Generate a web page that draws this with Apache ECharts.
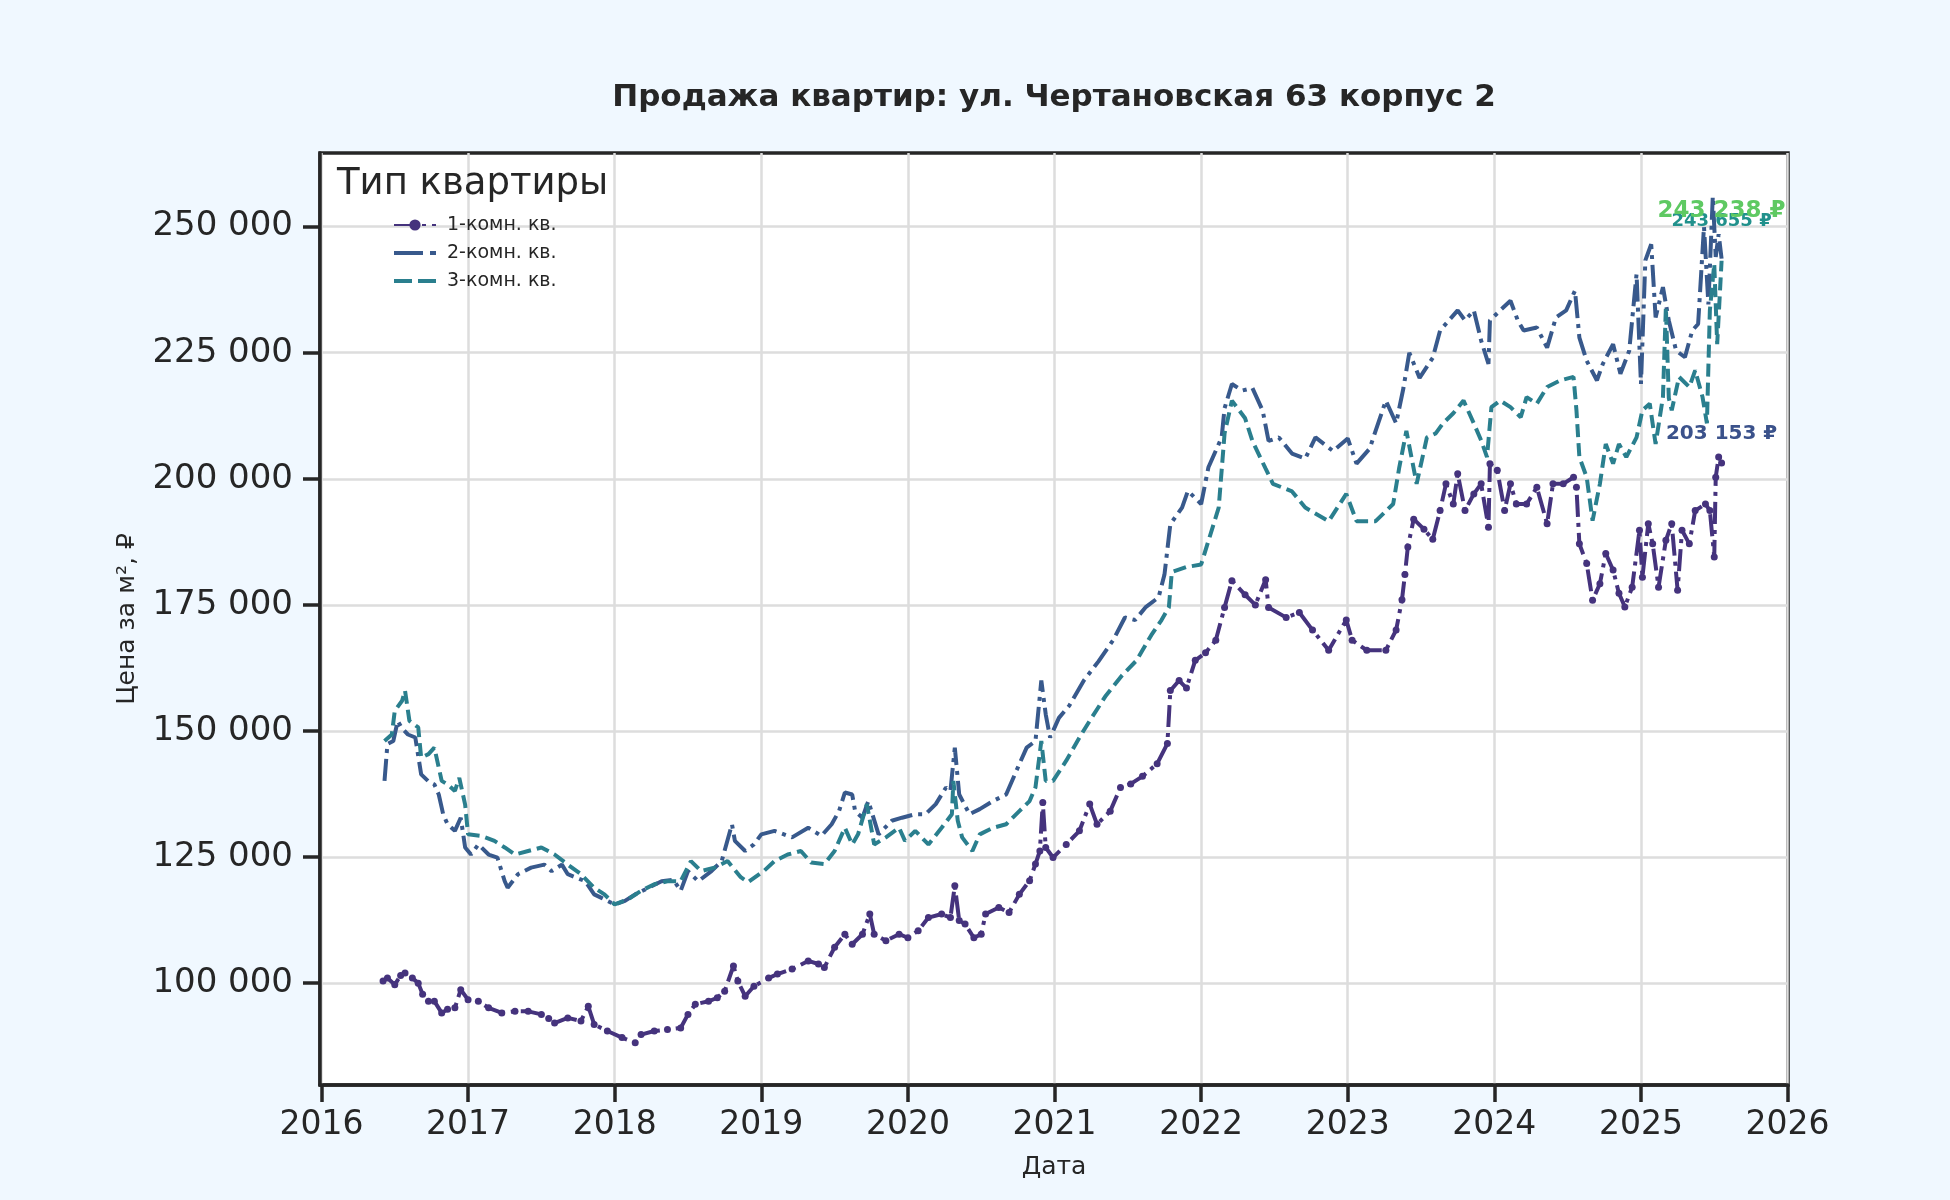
<!DOCTYPE html>
<html>
<head>
<meta charset="utf-8">
<title>Продажа квартир</title>
<script src="https://cdn.jsdelivr.net/npm/echarts@6/dist/echarts.min.js"></script>
<style>
  html, body { margin: 0; padding: 0; background: #f0f8ff; }
  #main { width: 1950px; height: 1200px; }
</style>
</head>
<body>
<div id="main"></div>
<script>
// данные: [дата (в долях года), цена за м²]
var room1 = [
  [2016.42, 100400], [2016.45, 101000], [2016.50, 99700], [2016.54, 101500], [2016.57, 102000],
  [2016.62, 101000], [2016.66, 100000], [2016.69, 97800], [2016.73, 96400], [2016.77, 96400],
  [2016.82, 94100], [2016.86, 94800], [2016.91, 95100], [2016.95, 98700], [2017.00, 96700],
  [2017.07, 96400], [2017.14, 95100], [2017.23, 94100], [2017.32, 94400], [2017.41, 94400],
  [2017.50, 93800], [2017.55, 93000], [2017.59, 92100], [2017.68, 93100], [2017.77, 92500],
  [2017.82, 95400], [2017.86, 91800], [2017.95, 90500], [2018.05, 89200], [2018.14, 88200],
  [2018.18, 89800], [2018.27, 90500], [2018.36, 90800], [2018.45, 91100], [2018.50, 93800],
  [2018.55, 95800], [2018.64, 96400], [2018.70, 97100], [2018.75, 98400], [2018.81, 103400],
  [2018.84, 100400], [2018.89, 97400], [2018.95, 99400], [2019.05, 101000], [2019.11, 101800],
  [2019.21, 102800], [2019.32, 104400], [2019.39, 103800], [2019.43, 103100], [2019.50, 107100],
  [2019.57, 109700], [2019.62, 107700], [2019.69, 109700], [2019.74, 113700], [2019.77, 109700],
  [2019.85, 108400], [2019.94, 109700], [2020.00, 109000], [2020.07, 110400], [2020.14, 113000],
  [2020.23, 113700], [2020.29, 113000], [2020.32, 119300], [2020.35, 112400], [2020.39, 111700],
  [2020.45, 109000], [2020.50, 109700], [2020.53, 113700], [2020.62, 115000], [2020.69, 114000],
  [2020.76, 117600], [2020.83, 120300], [2020.87, 123600], [2020.90, 126200], [2020.92, 135800],
  [2020.94, 126900], [2020.99, 124900], [2021.08, 127500], [2021.17, 130200], [2021.24, 135500],
  [2021.29, 131500], [2021.38, 134100], [2021.45, 138800], [2021.52, 139500], [2021.60, 141000],
  [2021.70, 143500], [2021.77, 147500], [2021.79, 158000], [2021.85, 160000], [2021.90, 158500],
  [2021.96, 164000], [2022.03, 165500], [2022.10, 168000], [2022.16, 174500], [2022.21, 179800],
  [2022.30, 177000], [2022.37, 175000], [2022.44, 180000], [2022.46, 174500], [2022.58, 172500],
  [2022.67, 173500], [2022.76, 170000], [2022.87, 166000], [2022.99, 172000], [2023.03, 168000],
  [2023.13, 166000], [2023.26, 166000], [2023.33, 170000], [2023.37, 176000], [2023.39, 181000],
  [2023.41, 186500], [2023.45, 192000], [2023.52, 190000], [2023.58, 188000], [2023.63, 193700],
  [2023.67, 199000], [2023.72, 195000], [2023.75, 201000], [2023.80, 193700], [2023.86, 197000],
  [2023.91, 199000], [2023.96, 190400], [2023.97, 203000], [2024.02, 201700], [2024.07, 193700],
  [2024.11, 199000], [2024.15, 195000], [2024.22, 195000], [2024.29, 198300], [2024.36, 191100],
  [2024.40, 199000], [2024.47, 199000], [2024.54, 200300], [2024.56, 198300], [2024.58, 187100],
  [2024.63, 183200], [2024.67, 175900], [2024.72, 179200], [2024.76, 185200], [2024.81, 181900],
  [2024.85, 177300], [2024.89, 174600], [2024.94, 178500], [2024.99, 189800], [2025.01, 180500],
  [2025.05, 191100], [2025.08, 187100], [2025.12, 178500], [2025.17, 187800], [2025.21, 191100],
  [2025.25, 177900], [2025.28, 189800], [2025.33, 187100], [2025.37, 193700], [2025.44, 195000],
  [2025.47, 193700], [2025.50, 184500], [2025.51, 200300], [2025.53, 204300], [2025.55, 203153]
];

var room2 = [
  [2016.43, 140100], [2016.45, 147400], [2016.49, 148000], [2016.52, 152000], [2016.55, 150500],
  [2016.59, 149300], [2016.64, 148700], [2016.68, 141400], [2016.73, 140000], [2016.77, 139400],
  [2016.80, 137400], [2016.83, 133500], [2016.86, 131500], [2016.91, 130200], [2016.95, 132800],
  [2016.98, 126900], [2017.02, 125500], [2017.07, 127500], [2017.14, 125500], [2017.20, 124900],
  [2017.25, 120200], [2017.27, 118900], [2017.34, 121600], [2017.43, 122900], [2017.52, 123500],
  [2017.57, 122200], [2017.64, 123500], [2017.68, 121600], [2017.80, 120200], [2017.86, 117600],
  [2017.91, 116900], [2018.00, 115600], [2018.07, 116300], [2018.14, 117600], [2018.23, 118900],
  [2018.32, 120200], [2018.40, 120500], [2018.45, 118300], [2018.50, 122200], [2018.57, 120200],
  [2018.66, 122200], [2018.73, 124200], [2018.80, 131500], [2018.82, 128200], [2018.89, 126200],
  [2018.95, 127500], [2019.00, 129500], [2019.09, 130200], [2019.21, 128900], [2019.32, 130800],
  [2019.41, 129200], [2019.48, 131500], [2019.53, 134100], [2019.57, 137800], [2019.62, 137400],
  [2019.64, 134100], [2019.69, 132800], [2019.73, 136100], [2019.80, 129500], [2019.89, 132200],
  [2019.96, 132800], [2020.05, 133500], [2020.12, 133500], [2020.19, 135500], [2020.26, 138800],
  [2020.29, 138100], [2020.32, 146700], [2020.35, 137400], [2020.42, 133500], [2020.49, 134500],
  [2020.58, 136100], [2020.67, 137400], [2020.74, 142100], [2020.81, 146700], [2020.87, 148000],
  [2020.91, 160000], [2020.94, 153300], [2020.97, 148700], [2021.03, 152600], [2021.10, 155000],
  [2021.20, 160000], [2021.30, 163800], [2021.40, 168000], [2021.48, 172500], [2021.55, 172000],
  [2021.62, 174500], [2021.71, 176500], [2021.75, 181000], [2021.79, 191000], [2021.87, 194300],
  [2021.91, 197600], [2022.00, 195000], [2022.05, 202300], [2022.14, 208200], [2022.16, 214000],
  [2022.21, 218800], [2022.28, 217500], [2022.35, 218000], [2022.42, 213500], [2022.46, 207500],
  [2022.53, 208200], [2022.62, 205000], [2022.71, 204000], [2022.78, 208200], [2022.90, 205500],
  [2023.00, 208000], [2023.06, 203000], [2023.15, 206000], [2023.19, 209500], [2023.26, 215500],
  [2023.33, 211000], [2023.38, 218000], [2023.42, 225000], [2023.49, 220000], [2023.58, 224000],
  [2023.63, 229400], [2023.75, 233400], [2023.80, 231400], [2023.86, 233400], [2023.91, 227400],
  [2023.96, 222800], [2023.97, 231400], [2024.04, 233400], [2024.11, 235300], [2024.16, 231400],
  [2024.20, 229400], [2024.29, 230000], [2024.36, 226000], [2024.42, 232000], [2024.49, 233400],
  [2024.55, 237300], [2024.58, 228000], [2024.63, 223400], [2024.70, 219500], [2024.74, 222800],
  [2024.81, 226700], [2024.86, 220800], [2024.92, 225400], [2024.97, 240600], [2025.00, 218800],
  [2025.03, 243300], [2025.07, 246500], [2025.10, 232000], [2025.15, 238000], [2025.19, 231400],
  [2025.24, 225400], [2025.30, 224100], [2025.35, 229400], [2025.39, 230700], [2025.43, 250000],
  [2025.46, 234600], [2025.49, 256000], [2025.51, 244000], [2025.53, 248500], [2025.55, 243655]
];

var room3 = [
  [2016.43, 148000], [2016.48, 149300], [2016.50, 154000], [2016.55, 156000], [2016.57, 158000],
  [2016.60, 152000], [2016.66, 150700], [2016.68, 144700], [2016.73, 145400], [2016.77, 146700],
  [2016.82, 140100], [2016.86, 139400], [2016.91, 138100], [2016.94, 140700], [2016.98, 135400],
  [2017.00, 129500], [2017.09, 129200], [2017.18, 128200], [2017.25, 126900], [2017.32, 125500],
  [2017.41, 126200], [2017.50, 126900], [2017.59, 125500], [2017.68, 123500], [2017.77, 121600],
  [2017.86, 118900], [2017.93, 117600], [2018.00, 115600], [2018.09, 116600], [2018.18, 118300],
  [2018.27, 119600], [2018.36, 120200], [2018.45, 120200], [2018.52, 124200], [2018.59, 122200],
  [2018.68, 122900], [2018.77, 124200], [2018.86, 121000], [2018.91, 120000], [2019.02, 122300],
  [2019.09, 124200], [2019.18, 125500], [2019.27, 126200], [2019.34, 123900], [2019.43, 123600],
  [2019.50, 126200], [2019.57, 130800], [2019.62, 127500], [2019.66, 129500], [2019.72, 135500],
  [2019.77, 127500], [2019.85, 128900], [2019.94, 130800], [2019.98, 128200], [2020.05, 130200],
  [2020.14, 127500], [2020.23, 130800], [2020.30, 133500], [2020.31, 140100], [2020.34, 132200],
  [2020.37, 128900], [2020.44, 126200], [2020.49, 129500], [2020.58, 130800], [2020.67, 131500],
  [2020.76, 134100], [2020.83, 136100], [2020.87, 138800], [2020.91, 148000], [2020.94, 140100],
  [2020.99, 140100], [2021.08, 144100], [2021.17, 148700], [2021.24, 152000], [2021.35, 157000],
  [2021.46, 161000], [2021.56, 164000], [2021.66, 169000], [2021.73, 172000], [2021.78, 174500],
  [2021.80, 181500], [2021.90, 182500], [2022.00, 183000], [2022.05, 187700], [2022.12, 194300],
  [2022.16, 209000], [2022.21, 215500], [2022.30, 212000], [2022.35, 207500], [2022.44, 202000],
  [2022.49, 199000], [2022.62, 197500], [2022.71, 194300], [2022.87, 191600], [2022.99, 197000],
  [2023.06, 191600], [2023.19, 191600], [2023.31, 195000], [2023.35, 202000], [2023.40, 209500],
  [2023.47, 199000], [2023.54, 208200], [2023.60, 209000], [2023.65, 211000], [2023.72, 213000],
  [2023.79, 215500], [2023.86, 211000], [2023.91, 207600], [2023.95, 204300], [2023.98, 214200],
  [2024.04, 215500], [2024.11, 214200], [2024.18, 212200], [2024.22, 216200], [2024.29, 214900],
  [2024.36, 218200], [2024.45, 219500], [2024.54, 220200], [2024.56, 213600], [2024.58, 204300],
  [2024.63, 200300], [2024.67, 191700], [2024.72, 199000], [2024.76, 206900], [2024.81, 203000],
  [2024.85, 206900], [2024.90, 204300], [2024.97, 208200], [2025.01, 213600], [2025.06, 214900],
  [2025.10, 206900], [2025.15, 216200], [2025.17, 234000], [2025.19, 216000], [2025.21, 213600],
  [2025.26, 220200], [2025.33, 218200], [2025.37, 221500], [2025.42, 216200], [2025.45, 211000],
  [2025.47, 233400], [2025.50, 242600], [2025.52, 226700], [2025.55, 243238]
];

var seriesNames = ['1-комн. кв.', '2-комн. кв.', '3-комн. кв.'];
var yearTicks = [2016, 2017, 2018, 2019, 2020, 2021, 2022, 2023, 2024, 2025, 2026];
var priceTicks = [100000, 125000, 150000, 175000, 200000, 225000, 250000];

var colors = ['#45337d', '#38598c', '#2a7f8e'];
var labelColors = ['#3b528b', '#21918c', '#5ec962'];

function fmtNum(v) {
    return String(Math.round(v)).replace(/\B(?=(\d{3})+(?!\d))/g, ' ');
}

var textColor = '#262626';
var font = 'DejaVu Sans';

var myChart = echarts.init(document.getElementById('main'));

// подпись последнего значения над концом линии
function lastMark(arr, color, size, dy) {
    var last = arr[arr.length - 1];
    return {
        symbol: 'circle',
        symbolSize: 1,
        itemStyle: { color: 'rgba(0,0,0,0)' },
        silent: true,
        data: [{
            coord: [last[0], last[1]],
            label: {
                show: true,
                position: 'inside',
                offset: [0, -dy],
                formatter: fmtNum(last[1]) + ' ₽',
                color: color,
                fontFamily: font,
                fontWeight: 'bold',
                fontSize: size
            }
        }]
    };
}

// значки легенды: штрих-пунктир и пунктир
var iconDashDot = 'path://M0,0h29v4h-29zM36,0h6v4h-6z';
var iconDashed = 'path://M0,0h18v4h-18zM24,0h18v4h-18z';

var option = {
    backgroundColor: '#f0f8ff',
    animation: false,
    title: [
        {
            text: 'Продажа квартир: ул. Чертановская 63 корпус 2',
            left: 1049,
            top: 77,
            textAlign: 'center',
            textStyle: { fontFamily: font, fontWeight: 'bold', fontSize: 31, color: textColor }
        },
        {
            text: 'Тип квартиры',
            left: 332,
            top: 161,
            textStyle: { fontFamily: font, fontWeight: 'normal', fontSize: 37, color: textColor }
        }
    ],
    legend: {
        orient: 'vertical',
        left: 388,
        top: 210,
        itemWidth: 42,
        itemHeight: 14,
        itemGap: 8,
        data: [
            { name: seriesNames[0] },
            { name: seriesNames[1], icon: iconDashDot },
            { name: seriesNames[2], icon: iconDashed }
        ],
        textStyle: { fontFamily: font, fontSize: 19, color: textColor, lineHeight: 20, padding: [0, 0, 0, 6] }
    },
    grid: {
        show: true,
        left: 320,
        right: 162,
        top: 153,
        bottom: 115,
        backgroundColor: '#ffffff',
        borderColor: textColor,
        borderWidth: 3.5
    },
    xAxis: {
        type: 'value',
        min: 2015.99,
        max: 2026.003,
        name: 'Дата',
        nameLocation: 'middle',
        nameGap: 70,
        nameTextStyle: { fontFamily: font, fontSize: 25, color: textColor },
        axisLine: { show: true, lineStyle: { color: textColor, width: 3.5 } },
        axisTick: {
            show: true, length: 17, lineStyle: { color: textColor, width: 3.5 },
            customValues: yearTicks
        },
        axisLabel: {
            fontFamily: font, fontSize: 33, color: textColor, margin: 24,
            customValues: yearTicks,
            formatter: function (v) { return String(v); }
        },
        splitLine: { show: true, lineStyle: { color: '#dddddd', width: 2.5 } }
    },
    yAxis: {
        type: 'value',
        min: 79800,
        max: 264600,
        name: 'Цена за м², ₽',
        nameLocation: 'middle',
        nameGap: 180,
        nameTextStyle: { fontFamily: font, fontSize: 25, color: textColor },
        axisLine: { show: true, lineStyle: { color: textColor, width: 3.5 } },
        axisTick: {
            show: true, length: 17, lineStyle: { color: textColor, width: 3.5 },
            customValues: priceTicks
        },
        axisLabel: {
            fontFamily: font, fontSize: 34, color: textColor, margin: 27,
            customValues: priceTicks,
            formatter: function (v) { return fmtNum(v); }
        },
        splitLine: { show: true, lineStyle: { color: '#dddddd', width: 2.5 } }
    },
    series: [
        {
            name: seriesNames[0],
            type: 'line',
            data: room1,
            color: colors[0],
            symbol: 'circle',
            symbolSize: 7,
            showSymbol: true,
            itemStyle: { color: colors[0] },
            lineStyle: { width: 4, type: [22, 6, 4, 6] },
            markPoint: lastMark(room1, labelColors[0], 20, 29),
            z: 3
        },
        {
            name: seriesNames[1],
            type: 'line',
            data: room2,
            color: colors[1],
            symbol: 'none',
            lineStyle: { width: 4, type: [22, 6, 4, 6] },
            markPoint: lastMark(room2, labelColors[1], 18, 37),
            z: 2
        },
        {
            name: seriesNames[2],
            type: 'line',
            data: room3,
            color: colors[2],
            symbol: 'none',
            lineStyle: { width: 4, type: [13, 6] },
            markPoint: lastMark(room3, labelColors[2], 23, 50),
            z: 4
        }
    ]
};

myChart.setOption(option);
</script>
</body>
</html>
